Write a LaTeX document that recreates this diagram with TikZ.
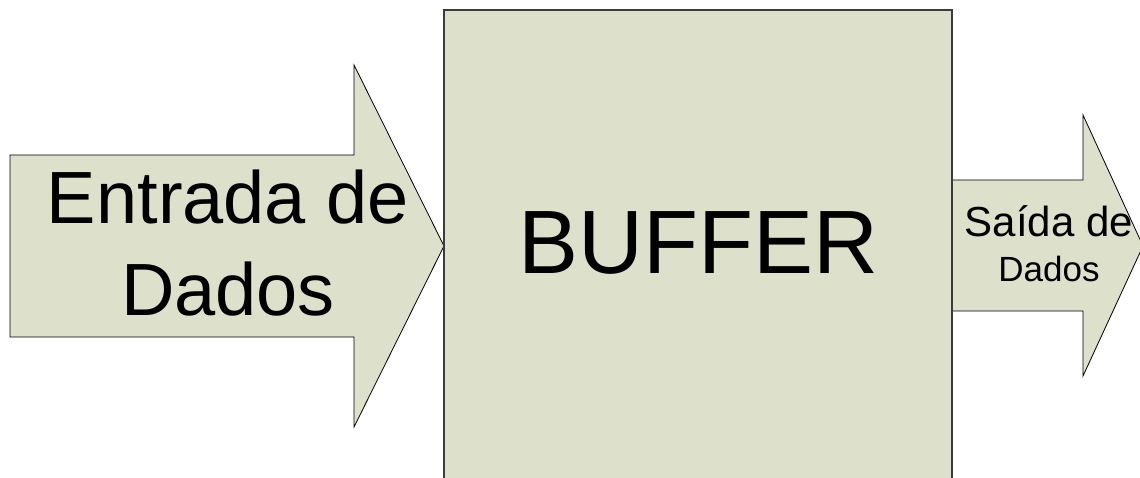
\documentclass[tikz,border=0pt]{standalone}
\usepackage{fontspec}
\setmainfont{Liberation Sans}
\definecolor{sage}{RGB}{221,224,202}
\definecolor{edgegray}{RGB}{60,60,60}
\tikzset{
  flowarrow/.style={fill=sage, draw=black, line width=0.8pt, line join=miter},
  bufferbox/.style={fill=sage, draw=edgegray, line width=1.6pt},
  lbl/.style={inner sep=0pt, align=center, anchor=base, text=black}
}
\begin{document}
\begin{tikzpicture}[x=1pt,y=-1pt]
  \useasboundingbox (0,0) rectangle (1140,478);
  % input arrow
  \draw[flowarrow] (10,155) -- (354,155) -- (354,65) -- (444,246) -- (354,427)
    -- (354,337) -- (10,337) -- cycle;
  \coordinate (intip) at (444,246);
  % output arrow
  \draw[flowarrow] (940,180) -- (1083,180) -- (1083,115) -- (1143,246)
    -- (1083,376) -- (1083,311) -- (940,311) -- cycle;
  % buffer block (open at the bottom of the page)
  \fill[sage] (444,10) rectangle (952,480);
  \draw[bufferbox] (444,490) -- (444,10) -- (952,10) -- (952,490);
  % labels (base anchor sits on the last line)
  \node[lbl, font=\fontsize{74}{92}\selectfont] (inlabel) at (228,315) {Entrada de\\Dados};
  \node[lbl, font=\fontsize{90}{100}\selectfont] (buflabel) at (698.5,273) {BUFFER};
  \node[lbl, font=\fontsize{42}{45}\selectfont] (outlabel) at (1049,282)
    {Saída de\\{\fontsize{35}{45}\selectfont Dados}};
\end{tikzpicture}
\end{document}
